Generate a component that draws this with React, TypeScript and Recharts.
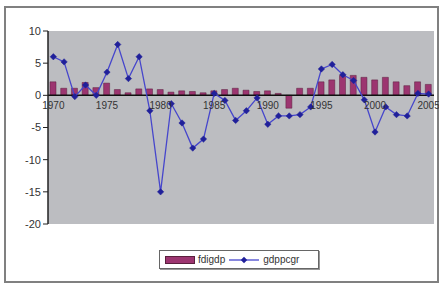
import React from 'react';
import { ComposedChart, Bar, Line, XAxis, YAxis, ReferenceLine } from 'recharts';

const years = [
  '1970', '1971', '1972', '1973', '1974', '1975', '1976', '1977', '1978', '1979',
  '1980', '1981', '1982', '1983', '1984', '1985', '1986', '1987', '1988', '1989',
  '1990', '1991', '1992', '1993', '1994', '1995', '1996', '1997', '1998', '1999',
  '2000', '2001', '2002', '2003', '2004', '2005',
];

const fdigdp = [
  2.1, 1.1, 1.1, 2.0, 1.2, 1.9, 0.9, 0.4, 1.0, 1.0,
  0.9, 0.5, 0.7, 0.6, 0.4, 0.7, 0.9, 1.1, 0.8, 0.6,
  0.7, 0.3, -2.0, 1.1, 1.1, 2.1, 2.4, 3.1, 3.1, 2.8,
  2.4, 2.8, 2.1, 1.5, 2.1, 1.7,
];

const gdppcgr = [
  6.0, 5.2, -0.2, 1.6, 0.0, 3.6, 7.9, 2.6, 6.0, -2.4,
  -15.0, -1.3, -4.3, -8.2, -6.8, 0.3, -0.8, -3.9, -2.4, -0.4,
  -4.5, -3.2, -3.2, -3.0, -1.8, 4.1, 4.8, 3.2, 2.3, -0.7,
  -5.7, -1.8, -3.0, -3.2, 0.3, 0.2,
];

const yTicks = [-20, -15, -10, -5, 0, 5, 10];

const data = years.map((year, i) => ({ year, fdigdp: fdigdp[i], gdppcgr: gdppcgr[i] }));

const BAR_COLOR = '#9c3570';
const LINE_COLOR = '#4646cc';
const MARKER_COLOR = '#20209a';
const FONT = '"Liberation Sans", Arial, sans-serif';

const XTick = (props: any) => {
  const { x, y, payload } = props;
  return (
    <text x={x} y={y - 123} textAnchor="middle" fontSize={10} fontFamily={FONT} fill="#333">
      {payload.value}
    </text>
  );
};

const Diamond = (props: any) => {
  const { cx, cy } = props;
  if (cx == null || cy == null) return null;
  const r = 3.2;
  return (
    <path
      d={`M${cx},${cy - r}L${cx + r},${cy}L${cx},${cy + r}L${cx - r},${cy}Z`}
      fill={MARKER_COLOR}
      stroke={MARKER_COLOR}
      strokeWidth={0.5}
    />
  );
};

export default function App() {
  return (
    <div style={{ position: 'absolute', left: 0, top: 0, width: 439, height: 284, background: '#fff' }}>
      <div
        style={{
          position: 'absolute',
          left: 4,
          top: 6,
          width: 431,
          height: 273,
          border: '2px solid #808080',
        }}
      />
      <div style={{ position: 'absolute', left: 0, top: 0 }}>
        <ComposedChart
          width={439}
          height={284}
          data={data}
          margin={{ top: 31, right: 5, left: 0, bottom: 30 }}
        >
          <rect x={48} y={31} width={386} height={193} fill="#bcbdc1" />
          <XAxis
            dataKey="year"
            interval={4}
            axisLine={false}
            tickLine={false}
            tick={<XTick />}
            height={30}
          />
          <YAxis
            domain={[-20, 10]}
            ticks={yTicks}
            width={48}
            axisLine={{ stroke: '#222', strokeWidth: 1.5 }}
            tickLine={{ stroke: '#222' }}
            tickSize={5}
            tick={{ fontSize: 11, fontFamily: FONT, fill: '#333' }}
            interval={0}
          />
          <ReferenceLine y={0} stroke="#111" strokeWidth={1.5} />
          <Bar
            dataKey="fdigdp"
            fill={BAR_COLOR}
            stroke="#5a1f3d"
            strokeWidth={0.5}
            barSize={6}
            isAnimationActive={false}
          />
          <Line
            dataKey="gdppcgr"
            stroke={LINE_COLOR}
            strokeWidth={1.3}
            dot={<Diamond />}
            activeDot={false}
            isAnimationActive={false}
          />
        </ComposedChart>
      </div>
      <div
        style={{
          position: 'absolute',
          left: 159,
          top: 250,
          width: 160,
          height: 19,
          border: '1px solid #666',
          boxShadow: '1px 1px 0 #999',
          background: '#fff',
          display: 'flex',
          alignItems: 'center',
          fontFamily: FONT,
          fontSize: 10,
          color: '#333',
          boxSizing: 'border-box',
        }}
      >
        <span style={{ display: 'inline-block', width: 28, height: 6, background: BAR_COLOR, border: '1px solid #5a1f3d', marginLeft: 5, marginRight: 3 }} />
        <span>fdigdp</span>
        <svg width={32} height={10} style={{ marginLeft: 3, marginRight: 3 }}>
          <line x1={1} y1={5} x2={31} y2={5} stroke={LINE_COLOR} strokeWidth={1.3} />
          <path d="M16,1.8L19.2,5L16,8.2L12.8,5Z" fill={MARKER_COLOR} />
        </svg>
        <span>gdppcgr</span>
      </div>
    </div>
  );
}
